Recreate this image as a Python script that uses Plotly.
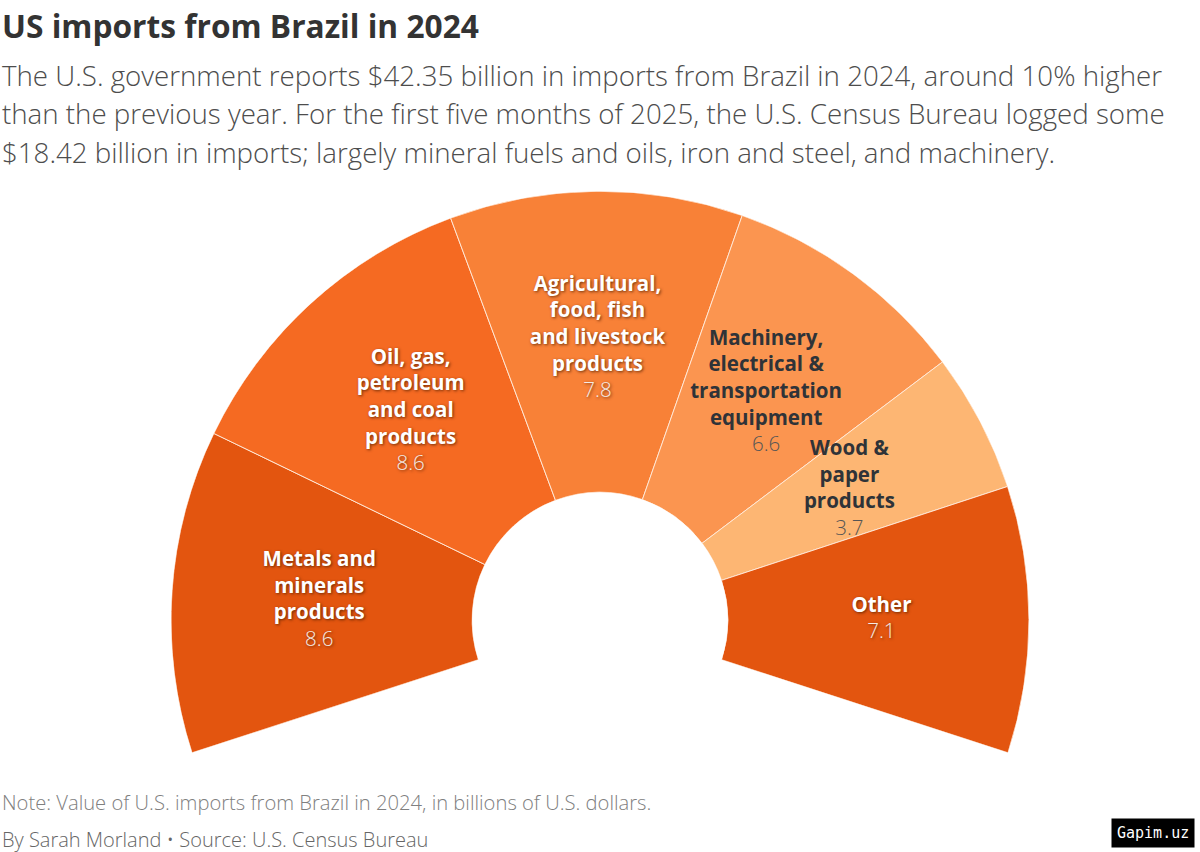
import plotly.graph_objects as go

categories = ["Metals and<br>minerals<br>products",
              "Oil, gas,<br>petroleum<br>and coal<br>products",
              "Agricultural,<br>food, fish<br>and livestock<br>products",
              "Machinery,<br>electrical &<br>transportation<br>equipment",
              "Wood &<br>paper<br>products",
              "Other"]
values = [8.6, 8.6, 7.8, 6.6, 3.7, 7.1]
colors = ["#E3550F", "#F56A22", "#F88137", "#FB9550", "#FDB673", "#E3550F"]
dark_label = [False, False, False, True, True, False]

title = "US imports from Brazil in 2024"
subtitle_lines = [
    "The U.S. government reports $42.35 billion in imports from Brazil in 2024, around 10% higher",
    "than the previous year. For the first five months of 2025, the U.S. Census Bureau logged some",
    "$18.42 billion in imports; largely mineral fuels and oils, iron and steel, and machinery.",
]
note = "Note: Value of U.S. imports from Brazil in 2024, in billions of U.S. dollars."
byline = "By Sarah Morland \u2022 Source: U.S. Census Bureau"

SECTOR_START, SECTOR_END = -18, 198
span = SECTOR_END - SECTOR_START
total = sum(values)
scale = span / total

thetas, widths = [], []
cum = 0
for v in values:
    thetas.append(SECTOR_END - (cum + v / 2) * scale)
    widths.append(v * scale)
    cum += v

FONT = "Open Sans"

fig = go.Figure()
fig.add_trace(go.Barpolar(
    r=[1] * len(values), theta=thetas, width=widths,
    marker=dict(color=colors, line=dict(color="rgba(255,235,220,0.9)", width=1)),
    hoverinfo="skip", showlegend=False,
))

R_LABEL = 0.51
for is_dark in (False, True):
    idx = [i for i in range(len(values)) if dark_label[i] == is_dark]
    if is_dark:
        texts = ["<b>%s</b><br><span style='color:#555;font-weight:300'>%s</span>" % (categories[i], values[i]) for i in idx]
        tf = dict(family=FONT, size=20.5, color="#2f3338")
    else:
        texts = ["<b>%s</b><br><span style='color:#f6ebe4;font-weight:300'>%s</span>" % (categories[i], values[i]) for i in idx]
        tf = dict(family=FONT, size=20.5, color="white", shadow="1px 1px 3px rgba(80,30,0,0.8)")
    fig.add_trace(go.Scatterpolar(
        r=[R_LABEL] * len(idx), theta=[thetas[i] for i in idx],
        mode="text", text=texts, textposition="middle center",
        textfont=tf, hoverinfo="skip", showlegend=False,
    ))

H = 852.0
def py(px):
    return 1 - px / H

annotations = [
    dict(text="<b>%s</b>" % title, x=0, y=py(25), xref="paper", yref="paper",
         xanchor="left", yanchor="middle", showarrow=False,
         font=dict(family=FONT, size=31.7, color="#333333")),
]
for k, line in enumerate(subtitle_lines):
    annotations.append(dict(text=line, x=0, y=py(75 + 38.5 * k), xref="paper", yref="paper",
                            xanchor="left", yanchor="middle", showarrow=False,
                            font=dict(family=FONT, size=27.7, color="#4d4d4d", weight=300)))
annotations += [
    dict(text=note, x=0, y=py(802), xref="paper", yref="paper", xanchor="left", yanchor="middle",
         showarrow=False, font=dict(family=FONT, size=20.2, color="#808080", weight=300)),
    dict(text=byline, x=0, y=py(839), xref="paper", yref="paper", xanchor="left", yanchor="middle",
         showarrow=False, font=dict(family=FONT, size=20, color="#666666", weight=300)),
    dict(text="Gapim.uz", x=1195 / 1200, y=py(848), xref="paper", yref="paper",
         xanchor="right", yanchor="bottom", showarrow=False, bgcolor="black",
         borderpad=5, font=dict(family="DejaVu Sans Mono", size=15, color="white")),
]

fig.update_layout(
    width=1200, height=852,
    margin=dict(l=0, r=0, t=0, b=0),
    paper_bgcolor="white",
    polar=dict(
        domain=dict(x=[171 / 1200, 1029 / 1200], y=[py(753), py(191)]),
        sector=[SECTOR_START, SECTOR_END],
        hole=0.298,
        bgcolor="white",
        radialaxis=dict(range=[0, 1], visible=False),
        angularaxis=dict(visible=False, direction="counterclockwise", rotation=0),
        bargap=0,
    ),
    annotations=annotations,
)

fig.write_html("out.html")
